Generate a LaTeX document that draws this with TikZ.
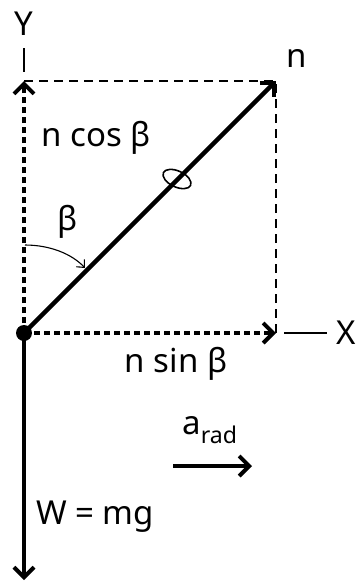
\documentclass[tikz,border=0pt]{standalone}
\usepackage{fontspec}
\setmainfont{Noto Sans}
\usetikzlibrary{arrows.meta}
\begin{document}
\begin{tikzpicture}[x=1pt,y=-1pt,
  vec/.style={line width=4.5pt,-{Straight Barb[length=10pt,width=20pt,line width=4pt]}},
  comp/.style={line width=4pt,dash pattern=on 6pt off 4pt,-{Straight Barb[length=10pt,width=20pt,line width=4pt]}},
  guide/.style={line width=1.6pt,dash pattern=on 9pt off 6pt},
  tick/.style={line width=1.6pt},
  lbl/.style={font=\fontsize{33}{33}\selectfont,inner sep=0pt}]
\useasboundingbox (0,0) rectangle (356,582);
\coordinate (O) at (24,333);
\coordinate (N) at (276,81);
\coordinate (Yt) at (24,81);
\coordinate (Xt) at (276,333);
\coordinate (Wt) at (24,580);
% guides
\draw[guide] (Yt) -- (N) -- (Xt);
% components
\draw[comp] (O) -- (Yt);
\draw[comp] (O) -- (Xt);
% axis ticks
\coordinate (ya) at (24,48);
\coordinate (yb) at (24,72);
\draw[tick] (ya) -- (yb);
\coordinate (xa) at (284,333);
\coordinate (xb) at (327,333);
\draw[tick] (xa) -- (xb);
% vectors
\draw[vec] (O) -- (N);
\draw[vec] (O) -- (Wt);
\fill (O) circle (8);
% slash mark
\coordinate (mc) at (177,179);
\draw[line width=1.6pt,rotate around={-25:(mc)}] (mc) ellipse (15 and 8);
% beta arc
\coordinate (ba) at (25,245);
\coordinate (bb) at (85,268);
\draw[line width=1.1pt,-{Straight Barb[length=6pt,width=11pt,line width=1.1pt]}] (ba) .. controls (50,245) and (72,254) .. (bb);
% a_rad
\coordinate (aa) at (173,466);
\coordinate (ab) at (252,466);
\draw[vec] (aa) -- (ab);
% labels
\node[lbl] (Ylab) at (24,24) {Y};
\node[lbl] (Xlab) at (346,333) {X};
\node[lbl] (nlab) at (297,58) {n};
\node[lbl] (ncos) at (96,138) {n cos β};
\node[lbl] (nsin) at (176,364) {n sin β};
\node[lbl] (beta) at (68,222) {β};
\node[lbl] (W) at (95,517) {W = mg};
\node[lbl] (arad) at (210,430) {a\textsubscript{rad}};
\end{tikzpicture}
\end{document}
